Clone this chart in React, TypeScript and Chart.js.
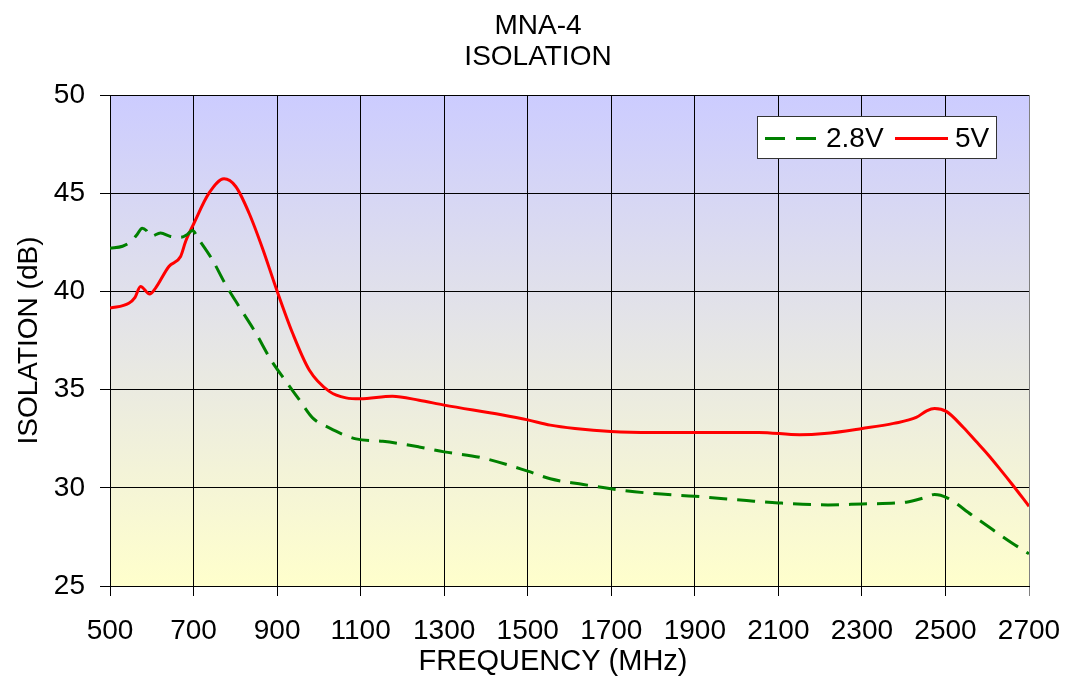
import React, { useEffect, useRef } from "react";
import { Chart, registerables } from "chart.js";

Chart.register(...registerables);

const chartTitle = ["MNA-4", "ISOLATION"];
const xTitle = "FREQUENCY (MHz)";
const yTitle = "ISOLATION (dB)";
const seriesLabels = ["2.8V", "5V"];

const freq28 = [500, 530, 550, 565, 577, 587, 597, 621, 645, 669, 685, 697, 713, 745, 777, 809, 849, 885, 921, 953, 985, 1025, 1089, 1153, 1240, 1300, 1388, 1500, 1554, 1633, 1699, 1799, 1900, 2024, 2100, 2220, 2301, 2406, 2450, 2474, 2504, 2562, 2611, 2660, 2700];
const iso28 = [42.2, 42.3, 42.54, 42.9, 43.22, 43.1, 42.8, 42.97, 42.8, 42.76, 42.9, 43.1, 42.63, 41.61, 40.34, 39.23, 37.88, 36.52, 35.42, 34.49, 33.56, 33.05, 32.49, 32.37, 32.08, 31.83, 31.54, 30.85, 30.46, 30.17, 29.95, 29.71, 29.57, 29.35, 29.23, 29.13, 29.18, 29.27, 29.5, 29.66, 29.49, 28.63, 27.9, 27.18, 26.64];

const freq5 = [500, 545, 560, 573, 595, 609, 641, 669, 681, 701, 737, 773, 801, 833, 865, 899, 937, 977, 1025, 1065, 1099, 1176, 1240, 1300, 1437, 1500, 1554, 1613, 1699, 1799, 1900, 2053, 2151, 2210, 2301, 2376, 2430, 2455, 2474, 2502, 2543, 2572, 2601, 2631, 2660, 2700];
const iso5 = [39.15, 39.4, 39.7, 40.25, 39.87, 40.17, 41.27, 41.78, 42.54, 43.47, 45.0, 45.73, 45.34, 43.98, 42.2, 40.08, 37.88, 36.0, 34.91, 34.58, 34.53, 34.66, 34.46, 34.21, 33.72, 33.46, 33.19, 33.02, 32.87, 32.82, 32.82, 32.82, 32.7, 32.76, 33.02, 33.28, 33.58, 33.92, 34.04, 33.89, 33.07, 32.39, 31.71, 30.94, 30.17, 29.06];

const FONT = "'Liberation Sans', Arial, Helvetica, sans-serif";
const GREEN = "#008000";
const RED = "#FF0000";

const decorPlugin = {
  id: "decor",
  beforeDraw(chart: any) {
    const { ctx, chartArea } = chart;
    const g = ctx.createLinearGradient(0, chartArea.top, 0, chartArea.bottom);
    g.addColorStop(0, "#CCCCFF");
    g.addColorStop(1, "#FFFFCC");
    ctx.save();
    ctx.fillStyle = g;
    ctx.fillRect(chartArea.left, chartArea.top, chartArea.right - chartArea.left, chartArea.bottom - chartArea.top);
    ctx.restore();
  },
  afterDraw(chart: any) {
    const { ctx } = chart;
    ctx.save();
    ctx.fillStyle = "#000";
    ctx.font = `28px ${FONT}`;
    ctx.textAlign = "center";
    ctx.textBaseline = "alphabetic";
    ctx.fillText(chartTitle[0], 538, 34);
    ctx.fillText(chartTitle[1], 538, 65);
    ctx.font = `29px ${FONT}`;
    ctx.fillText(xTitle, 553, 670);
    ctx.font = `28px ${FONT}`;
    const bx = 757.5, by = 116.5, bw = 239, bh = 42;
    ctx.fillStyle = "#FFFFFF";
    ctx.fillRect(bx, by, bw, bh);
    ctx.strokeStyle = "#333333";
    ctx.lineWidth = 1;
    ctx.strokeRect(bx, by, bw, bh);
    const ly = 138.5;
    ctx.lineWidth = 3;
    ctx.strokeStyle = GREEN;
    ctx.setLineDash([20, 11]);
    ctx.beginPath();
    ctx.moveTo(765, ly);
    ctx.lineTo(819, ly);
    ctx.stroke();
    ctx.setLineDash([]);
    ctx.strokeStyle = RED;
    ctx.beginPath();
    ctx.moveTo(895, ly);
    ctx.lineTo(948, ly);
    ctx.stroke();
    ctx.fillStyle = "#000";
    ctx.textAlign = "left";
    ctx.textBaseline = "middle";
    ctx.fillText(seriesLabels[0], 826, 139);
    ctx.fillText(seriesLabels[1], 955, 139);
    ctx.restore();
  },
};

export default function App() {
  const ref = useRef<HTMLCanvasElement | null>(null);
  useEffect(() => {
    if (!ref.current) return;
    const chart = new Chart(ref.current, {
      type: "line",
      data: {
        datasets: [
          {
            label: seriesLabels[0],
            data: freq28.map((f, i) => ({ x: f, y: iso28[i] })),
            borderColor: GREEN,
            borderWidth: 3,
            borderDash: [18, 10],
            pointRadius: 0,
            cubicInterpolationMode: "monotone",
            fill: false,
          },
          {
            label: seriesLabels[1],
            data: freq5.map((f, i) => ({ x: f, y: iso5[i] })),
            borderColor: RED,
            borderWidth: 3,
            pointRadius: 0,
            cubicInterpolationMode: "monotone",
            fill: false,
          },
        ],
      },
      options: {
        responsive: false,
        animation: false,
        layout: { padding: { top: 95, right: 40, left: 0, bottom: 0 } },
        plugins: {
          legend: { display: false },
          title: { display: false },
          tooltip: { enabled: false },
        },
        scales: {
          x: {
            type: "linear",
            min: 500,
            max: 2700,
            afterFit(scale: any) {
              scale.height = 91;
              scale.paddingRight = 0;
              scale.paddingLeft = 0;
            },
            ticks: {
              stepSize: 200,
              color: "#000",
              font: { family: FONT, size: 28 },
              padding: 18,
              maxRotation: 0,
              autoSkip: false,
              callback: (v: any) => String(v),
            },
            grid: {
              color: (c: any) => (c.tick && c.tick.value === 2700 ? "#808080" : "#000"),
              lineWidth: 1,
              tickLength: 10,
              drawTicks: true,
            },
            border: { display: true, color: "#000" },
            title: { display: false, text: xTitle },
          },
          y: {
            type: "linear",
            min: 25,
            max: 50,
            afterFit(scale: any) {
              scale.width = 110;
            },
            ticks: {
              stepSize: 5,
              color: "#000",
              font: { family: FONT, size: 28 },
              padding: 15,
              callback: (v: any) => String(v),
            },
            grid: {
              color: "#000",
              lineWidth: 1,
              tickLength: 10,
              drawTicks: true,
            },
            border: { display: true, color: "#000" },
            title: {
              display: true,
              text: yTitle,
              color: "#000",
              font: { family: FONT, size: 28 },
              padding: { top: 12, bottom: 0 },
            },
          },
        },
      },
      plugins: [decorPlugin],
    });
    return () => chart.destroy();
  }, []);
  return (
    <div style={{ position: "absolute", left: 0, top: 0, width: 1069, height: 677 }}>
      <canvas ref={ref} width={1069} height={677} style={{ display: "block" }} />
    </div>
  );
}
